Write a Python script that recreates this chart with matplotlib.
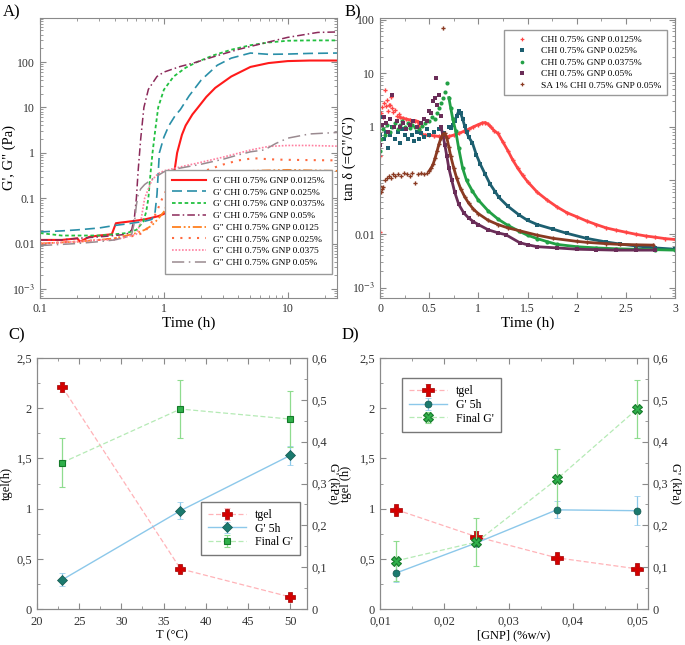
import matplotlib
matplotlib.use("Agg")
import matplotlib.pyplot as plt
from matplotlib.ticker import FixedLocator, FixedFormatter, MultipleLocator, FuncFormatter, LogLocator, NullFormatter

plt.rcParams['font.family'] = ['Liberation Serif', 'DejaVu Serif']
plt.rcParams['mathtext.fontset'] = 'stix'

# ---------------- panel A : G', G'' vs time ----------------
a_labels = ["G' CHI 0.75% GNP 0.0125%", "G' CHI 0.75% GNP 0.025%",
            "G' CHI 0.75% GNP 0.0375%", "G' CHI 0.75% GNP 0.05%",
            "G\" CHI 0.75% GNP 0.0125", "G\" CHI 0.75% GNP 0.025%",
            "G\" CHI 0.75% GNP 0.0375", "G\" CHI 0.75% GNP 0.05%"]

a_t_gp1 = [0.1, 0.15, 0.2, 0.21, 0.25, 0.3, 0.38, 0.41, 0.45, 0.5, 0.6, 0.7, 0.8, 0.9, 1.0, 1.06, 1.1, 1.15, 1.2, 1.28, 1.4, 1.5, 1.7, 1.86, 2.2, 2.6, 3.5, 5, 7, 10, 15, 25]
a_v_gp1 = [0.012, 0.012, 0.013, 0.011, 0.014, 0.015, 0.016, 0.028, 0.029, 0.03, 0.032, 0.034, 0.037, 0.04, 0.045, 0.05, 0.07, 0.14, 0.3, 1.0, 2.5, 4.0, 7.0, 9.5, 17, 27, 48, 78, 95, 105, 108, 108]
a_t_gp2 = [0.1, 0.15, 0.2, 0.3, 0.4, 0.5, 0.6, 0.7, 0.8, 0.85, 0.88, 0.9, 0.92, 1.0, 1.1, 1.23, 1.36, 1.6, 2.0, 2.7, 3.5, 5, 7, 10, 15, 25]
a_v_gp2 = [0.018, 0.019, 0.02, 0.022, 0.025, 0.027, 0.029, 0.031, 0.034, 0.05, 0.12, 0.35, 1.0, 2.2, 4.0, 6.5, 9.0, 18, 40, 85, 122, 158, 148, 150, 155, 158]
a_t_gp3 = [0.1, 0.15, 0.2, 0.3, 0.4, 0.5, 0.6, 0.68, 0.72, 0.75, 0.78, 0.81, 0.85, 0.9, 1.0, 1.2, 1.5, 1.85, 2.5, 3.5, 5, 7, 10, 15, 25]
a_v_gp3 = [0.017, 0.015, 0.015, 0.015, 0.016, 0.017, 0.02, 0.03, 0.05, 0.1, 0.35, 1.0, 3.0, 10, 24.5, 48, 75, 100, 140, 187, 235, 270, 295, 300, 300]
a_t_gp4 = [0.1, 0.15, 0.2, 0.3, 0.4, 0.5, 0.55, 0.58, 0.6, 0.62, 0.65, 0.69, 0.75, 0.88, 1.0, 1.36, 1.8, 2.5, 4, 6.5, 10, 17.5, 25]
a_v_gp4 = [0.012, 0.012, 0.013, 0.014, 0.015, 0.016, 0.02, 0.04, 0.1, 0.4, 2.0, 10, 25, 48, 60, 80, 98, 130, 190, 263, 350, 450, 460]
a_t_gs1 = [0.1, 0.2, 0.3, 0.4, 0.5, 0.6, 0.7, 0.8, 0.9, 1.0, 1.1, 1.2, 1.36, 1.6, 2, 2.5, 3, 5, 10, 15, 25]
a_v_gs1 = [0.01, 0.011, 0.012, 0.013, 0.015, 0.017, 0.02, 0.025, 0.035, 0.05, 0.09, 0.15, 0.21, 0.25, 0.31, 0.37, 0.39, 0.4, 0.42, 0.41, 0.4]
a_t_gs2 = [0.1, 0.2, 0.3, 0.4, 0.5, 0.6, 0.7, 0.8, 0.9, 1.0, 1.1, 1.2, 1.5, 1.86, 3, 4, 5.3, 6, 8, 10, 15, 25]
a_v_gs2 = [0.01, 0.011, 0.012, 0.013, 0.014, 0.015, 0.018, 0.03, 0.06, 0.12, 0.18, 0.24, 0.3, 0.35, 0.55, 0.68, 0.76, 0.74, 0.71, 0.7, 0.69, 0.68]
a_t_gs3 = [0.1, 0.2, 0.3, 0.4, 0.5, 0.6, 0.65, 0.7, 0.8, 0.9, 1.0, 1.2, 1.5, 1.86, 3, 4, 5, 7, 10, 15, 25]
a_v_gs3 = [0.01, 0.011, 0.012, 0.012, 0.014, 0.016, 0.03, 0.1, 0.25, 0.35, 0.4, 0.45, 0.52, 0.59, 0.8, 0.98, 1.15, 1.38, 1.45, 1.45, 1.4]
a_t_gs4 = [0.1, 0.2, 0.3, 0.4, 0.5, 0.55, 0.58, 0.6, 0.62, 0.65, 0.7, 0.8, 1.0, 1.3, 1.6, 2, 3, 4, 5, 6.5, 8, 10, 15, 25]
a_v_gs4 = [0.009, 0.01, 0.011, 0.012, 0.014, 0.016, 0.03, 0.07, 0.12, 0.16, 0.2, 0.26, 0.38, 0.45, 0.5, 0.56, 0.72, 0.9, 1.05, 1.16, 1.6, 2.1, 2.6, 2.8]

# ---------------- panel B : tan delta vs time ----------------
b_labels = ["CHI 0.75% GNP 0.0125%", "CHI 0.75% GNP 0.025%", "CHI 0.75% GNP 0.0375%",
            "CHI 0.75% GNP 0.05%", "SA 1% CHI 0.75% GNP 0.05%"]

b_red_nt = [0.0, 0.0, 0.01, 0.02, 0.03, 0.04, 0.05, 0.06, 0.07, 0.08, 0.09, 0.1, 0.11, 0.12, 0.13, 0.15, 0.17, 0.19]
b_red_nv = [0.011, 0.28, 1.8, 2.3, 1.5, 2.8, 4.8, 2.4, 3.2, 2.0, 2.6, 2.5, 3.6, 2.2, 1.9, 2.1, 1.6, 1.7]
b_red_t = [0.2, 0.23, 0.26, 0.3, 0.33, 0.36, 0.39, 0.41, 0.43, 0.46, 0.5, 0.55, 0.6, 0.65, 0.7, 0.75, 0.8, 0.85, 0.9, 0.95, 1.0, 1.04, 1.07, 1.1, 1.13, 1.16, 1.2, 1.25, 1.3, 1.35, 1.4, 1.45, 1.5, 1.6, 1.7, 1.8, 1.9, 2.0, 2.1, 2.2, 2.3, 2.4, 2.5, 2.6, 2.7, 2.8, 2.9, 3.0]
b_red_v = [1.5, 1.45, 1.4, 1.35, 1.3, 1.3, 1.25, 0.8, 0.72, 0.7, 0.7, 0.68, 0.66, 0.65, 0.66, 0.7, 0.75, 0.82, 0.9, 1.0, 1.1, 1.18, 1.2, 1.12, 0.98, 0.85, 0.75, 0.52, 0.36, 0.24, 0.17, 0.125, 0.095, 0.06, 0.043, 0.032, 0.025, 0.021, 0.0175, 0.015, 0.013, 0.0118, 0.0108, 0.0099, 0.0092, 0.0087, 0.0082, 0.0079]

b_teal_nt = [0.0, 0.02, 0.04, 0.06, 0.08, 0.1, 0.12, 0.15, 0.18, 0.2, 0.22, 0.25, 0.28, 0.3, 0.33, 0.35, 0.38, 0.4, 0.42, 0.45, 0.48, 0.5, 0.55, 0.6, 0.65, 0.7]
b_teal_nv = [0.7, 1.5, 0.6, 0.8, 0.4, 0.7, 1.0, 0.6, 0.8, 0.5, 0.9, 0.7, 0.6, 1.1, 0.7, 0.55, 0.8, 0.6, 0.75, 0.65, 0.9, 0.7, 0.8, 0.9, 0.75, 1.0]
b_teal_t = [0.72, 0.74, 0.76, 0.78, 0.8, 0.82, 0.84, 0.86, 0.88, 0.9, 0.94, 0.98, 1.02, 1.07, 1.12, 1.17, 1.21, 1.3, 1.41, 1.5, 1.6, 1.76, 1.9, 2.1, 2.3, 2.44, 2.6, 2.8, 3.0]
b_teal_v = [0.95, 1.1, 1.3, 1.6, 1.95, 1.8, 1.4, 1.05, 0.8, 0.65, 0.5, 0.3, 0.2, 0.13, 0.085, 0.062, 0.048, 0.033, 0.023, 0.018, 0.015, 0.0123, 0.0103, 0.0083, 0.0071, 0.0065, 0.006, 0.0055, 0.0052]

b_green_nt = [0.0, 0.01, 0.03, 0.05, 0.07, 0.1, 0.12, 0.15, 0.18, 0.2, 0.22, 0.25, 0.28, 0.3, 0.33, 0.36, 0.4, 0.43, 0.46, 0.5, 0.53, 0.56, 0.58, 0.6, 0.62, 0.64, 0.66, 0.68]
b_green_nv = [0.35, 0.6, 0.9, 0.7, 1.1, 0.8, 1.0, 1.2, 0.9, 1.1, 1.3, 1.0, 1.2, 0.95, 1.1, 1.0, 0.9, 1.05, 1.2, 1.3, 1.5, 1.4, 1.8, 2.2, 2.8, 3.5, 4.5, 6.5]
b_green_t = [0.7, 0.72, 0.74, 0.77, 0.8, 0.84, 0.88, 0.94, 1.0, 1.1, 1.2, 1.3, 1.41, 1.5, 1.6, 1.7, 1.8, 2.0, 2.2, 2.4, 2.6, 2.8, 3.0]
b_green_v = [3.5, 2.2, 1.4, 0.83, 0.4, 0.17, 0.1, 0.063, 0.043, 0.027, 0.019, 0.0145, 0.0114, 0.0095, 0.0082, 0.0072, 0.0064, 0.0058, 0.0055, 0.0053, 0.0052, 0.0051, 0.005]

b_purple_nt = [0.0, 0.02, 0.04, 0.06, 0.08, 0.1, 0.12, 0.14, 0.17, 0.2, 0.23, 0.26, 0.3, 0.34, 0.38, 0.42, 0.45, 0.48, 0.5, 0.52, 0.54, 0.56, 0.57, 0.58, 0.6, 0.62]
b_purple_nv = [0.45, 1.1, 1.5, 1.2, 0.8, 1.4, 4.0, 1.0, 1.3, 1.0, 1.2, 0.9, 1.1, 1.3, 1.0, 1.2, 1.4, 1.3, 2.0, 1.8, 3.0, 3.5, 8.0, 2.5, 4.0, 1.6]
b_purple_t = [0.62, 0.64, 0.66, 0.68, 0.7, 0.73, 0.76, 0.8, 0.85, 0.9, 0.95, 1.0, 1.1, 1.2, 1.28, 1.42, 1.5, 1.6, 1.8, 2.0, 2.2, 2.4, 2.6, 2.8]
b_purple_v = [1.0, 0.7, 0.45, 0.28, 0.17, 0.1, 0.06, 0.036, 0.025, 0.02, 0.017, 0.015, 0.012, 0.0105, 0.0097, 0.0069, 0.0063, 0.0058, 0.0055, 0.0052, 0.0051, 0.005, 0.005, 0.005]

b_brown_nt = [0.0, 0.01, 0.02, 0.03, 0.05, 0.07, 0.09, 0.11, 0.13, 0.15, 0.18, 0.21, 0.24, 0.27, 0.3, 0.33, 0.36, 0.39, 0.42, 0.45, 0.48, 0.64]
b_brown_nv = [0.08, 0.06, 0.07, 0.075, 0.1, 0.11, 0.12, 0.11, 0.13, 0.12, 0.13, 0.12, 0.14, 0.13, 0.12, 0.14, 0.09, 0.13, 0.14, 0.13, 0.14, 70.0]
b_brown_t = [0.5, 0.52, 0.54, 0.56, 0.58, 0.6, 0.62, 0.64, 0.66, 0.68, 0.7, 0.72, 0.75, 0.78, 0.82, 0.86, 0.9, 0.95, 1.0, 1.1, 1.2, 1.3, 1.42, 1.6, 1.76, 2.0, 2.1, 2.3, 2.44, 2.6, 2.78]
b_brown_v = [0.15, 0.17, 0.2, 0.26, 0.35, 0.48, 0.62, 0.72, 0.75, 0.62, 0.42, 0.28, 0.17, 0.11, 0.07, 0.05, 0.038, 0.029, 0.024, 0.018, 0.015, 0.013, 0.0115, 0.0095, 0.0083, 0.0073, 0.007, 0.0066, 0.0064, 0.0063, 0.0062]

# ---------------- panel C : vs temperature ----------------
c_temp = [23, 37, 50]
c_tgel = [2.21, 0.40, 0.12]
c_tgel_err = [0.05, 0.03, 0.02]
c_g5h = [0.070, 0.235, 0.367]
c_g5h_err = [0.015, 0.02, 0.022]
c_gfin = [0.350, 0.478, 0.454]
c_gfin_err = [0.058, 0.07, 0.066]

# ---------------- panel D : vs GNP ----------------
d_gnp = [0.0125, 0.025, 0.0375, 0.05]
d_tgel = [0.99, 0.72, 0.51, 0.40]
d_tgel_err = [0.03, 0.06, 0.03, 0.03]
d_g5h = [0.086, 0.158, 0.237, 0.235]
d_g5h_err = [0.022, 0.01, 0.02, 0.034]
d_gfin = [0.115, 0.160, 0.310, 0.478]
d_gfin_err = [0.048, 0.058, 0.072, 0.07]

W, H = 685, 645
fig = plt.figure(figsize=(W / 100, H / 100), dpi=100)


def px_axes(x0, y0, x1, y1):
    return fig.add_axes([x0 / W, 1 - y1 / H, (x1 - x0) / W, (y1 - y0) / H])


def style_frame(ax, size=8.5):
    for s in ax.spines.values():
        s.set_color('#8a8a8a')
        s.set_linewidth(0.8)
    ax.tick_params(which='both', direction='in', top=True, right=True,
                   colors='#8a8a8a', labelcolor='#333333', labelsize=size)
    ax.tick_params(which='major', length=4)
    ax.tick_params(which='minor', length=2)


comma = FuncFormatter(lambda v, p: ('%g' % round(v, 4)).replace('.', ','))

# ---- A ----
axA = px_axes(40, 18, 337, 298)
a_series = [(a_t_gp1, a_v_gp1, '#ff1a1a', '-', 1.5),
            (a_t_gp2, a_v_gp2, '#2a8fa8', (0, (6, 3)), 1.2),
            (a_t_gp3, a_v_gp3, '#22c040', (0, (2, 1.5)), 1.3),
            (a_t_gp4, a_v_gp4, '#8b2a5a', (0, (5, 2, 1, 2)), 1.1),
            (a_t_gs1, a_v_gs1, '#ff8020', (0, (5, 1.5, 1, 1.5, 1, 1.5)), 1.3),
            (a_t_gs2, a_v_gs2, '#ff6a40', (0, (1, 3)), 1.5),
            (a_t_gs3, a_v_gs3, '#ff7fa0', (0, (1, 1)), 1.2),
            (a_t_gs4, a_v_gs4, '#9a8a90', (0, (8, 3, 1, 3)), 1.1)]
for (t, v, c, ls, lw), lab in zip(a_series, a_labels):
    axA.plot(t, v, color=c, ls=ls, lw=lw, label=lab)
axA.set_xscale('log')
axA.set_yscale('log')
axA.set_xlim(0.1, 25)
axA.set_ylim(6.3e-4, 935)
axA.yaxis.set_major_locator(FixedLocator([1e-3, 1e-2, 1e-1, 1, 10, 100]))
axA.yaxis.set_major_formatter(FixedFormatter(['10$^{-3}$', '0.01', '0.1', '1', '10', '100']))
axA.xaxis.set_major_locator(FixedLocator([0.1, 1, 10]))
axA.xaxis.set_major_formatter(FixedFormatter(['0.1', '1', '10']))
axA.xaxis.set_minor_locator(LogLocator(subs=range(2, 10)))
axA.yaxis.set_minor_locator(LogLocator(subs=range(2, 10)))
axA.xaxis.set_minor_formatter(NullFormatter())
axA.yaxis.set_minor_formatter(NullFormatter())
style_frame(axA)
axA.set_xlabel('Time (h)', fontsize=11, labelpad=1)
axA.set_ylabel("G', G\" (Pa)", fontsize=10.5)
axA.yaxis.set_label_coords(-0.082, 0.5)
axA.legend(loc='lower right', bbox_to_anchor=(0.998, 0.07), fontsize=6.8, handlelength=3.6,
           labelspacing=0.33, borderpad=0.7, fancybox=False, edgecolor='#999999', framealpha=1)
fig.text(3 / W, 1 - 12 / H, 'A)', fontsize=12, va='center')

# ---- B ----
axB = px_axes(380, 18, 675, 298)
b_series = [(b_red_nt, b_red_nv, b_red_t, b_red_v, '#ff4545', 'P'),
            (b_teal_nt, b_teal_nv, b_teal_t, b_teal_v, '#1d5f70', 's'),
            (b_green_nt, b_green_nv, b_green_t, b_green_v, '#22a045', 'o'),
            (b_purple_nt, b_purple_nv, b_purple_t, b_purple_v, '#6a2d58', 's'),
            (b_brown_nt, b_brown_nv, b_brown_t, b_brown_v, '#8a3a22', 'P')]
for (nt, nv, t, v, c, m), lab in zip(b_series, b_labels):
    axB.plot(nt, nv, ls='none', marker=m, ms=3, color=c, mew=0, label=lab)
    axB.plot(t, v, ls='-', lw=2.0, marker=m, ms=3, color=c, mew=0)
axB.set_yscale('log')
axB.set_xlim(0, 3)
axB.set_ylim(6.4e-4, 107)
axB.yaxis.set_major_locator(FixedLocator([1e-3, 1e-2, 1e-1, 1, 10, 100]))
axB.yaxis.set_major_formatter(FixedFormatter(['10$^{-3}$', '0.01', '', '1', '10', '100']))
axB.yaxis.set_minor_locator(LogLocator(subs=range(2, 10)))
axB.yaxis.set_minor_formatter(NullFormatter())
axB.xaxis.set_major_locator(MultipleLocator(0.5))
axB.xaxis.set_minor_locator(MultipleLocator(0.25))
axB.xaxis.set_major_formatter(FuncFormatter(lambda v, p: '%g' % v))
style_frame(axB)
axB.set_xlabel('Time (h)', fontsize=11, labelpad=1)
axB.set_ylabel("tan \u03b4 (=G\"/G')", fontsize=10.5)
axB.yaxis.set_label_coords(-0.082, 0.5)
axB.legend(loc='upper right', bbox_to_anchor=(0.99, 0.975), fontsize=6.8, handlelength=2.5,
           labelspacing=0.3, borderpad=0.6, fancybox=False, edgecolor='#999999', framealpha=1,
           markerscale=0.9)
fig.text(345 / W, 1 - 12 / H, 'B)', fontsize=12, va='center')


def twin_panel(x0, x1, xs, tg, tge, g5, g5e, gf, gfe, fin_marker, fin_ms, g5_marker, tg_ms):
    ax = px_axes(x0, 358, x1, 609)
    ax2 = ax.twinx()
    h1 = ax.errorbar(xs, tg, yerr=tge, color='#ffb3b8', ls=(0, (4, 2)), lw=0.9,
                     marker='P', ms=tg_ms, mfc='#d40000', mec='#a00000', mew=0.5,
                     ecolor='#ff9aa0', elinewidth=0.9, capsize=2.5, label='tgel')
    h2 = ax2.errorbar(xs, g5, yerr=g5e, color='#8cc8ea', ls='-', lw=1.0,
                      marker=g5_marker, ms=5, mfc='#1b7a6e', mec='#14564e', mew=0.5,
                      ecolor='#8cc8ea', elinewidth=0.9, capsize=2.5, label="G' 5h")
    h3 = ax2.errorbar(xs, gf, yerr=gfe, color='#b5eab5', ls=(0, (4, 2)), lw=0.9,
                      marker=fin_marker, ms=fin_ms, mfc='#2fb04a', mec='#157a2a', mew=0.8,
                      ecolor='#8fdc8f', elinewidth=0.9, capsize=2.5, label="Final G'")
    ax.set_ylim(0, 2.5)
    ax2.set_ylim(0, 0.6)
    ax.yaxis.set_major_locator(MultipleLocator(0.5))
    ax.yaxis.set_minor_locator(MultipleLocator(0.25))
    ax2.yaxis.set_major_locator(MultipleLocator(0.1))
    ax2.yaxis.set_minor_locator(MultipleLocator(0.05))
    ax.yaxis.set_major_formatter(comma)
    ax2.yaxis.set_major_formatter(comma)
    for a in (ax, ax2):
        for s in a.spines.values():
            s.set_color('#8a8a8a')
            s.set_linewidth(0.8)
        a.tick_params(which='both', direction='in', colors='#8a8a8a',
                      labelcolor='#333333', labelsize=9)
        a.tick_params(which='major', length=4)
        a.tick_params(which='minor', length=2)
    ax.tick_params(which='both', top=True, right=False)
    ax.tick_params(axis='x', pad=5)
    ax2.tick_params(which='both', left=False, right=True)
    ax2.set_ylabel("G' (kPa)", fontsize=9, rotation=270, va='center')
    return ax, ax2, [h1, h2, h3]


# ---- C ----
axC, axC2, hc = twin_panel(37, 307, c_temp, c_tgel, c_tgel_err, c_g5h, c_g5h_err,
                           c_gfin, c_gfin_err, 's', 4.5, 'D', 7)
axC.set_xlim(20, 52)
axC.xaxis.set_major_locator(MultipleLocator(5))
axC.xaxis.set_minor_locator(MultipleLocator(2.5))
axC.set_xlabel('T (\u00b0C)', fontsize=9, labelpad=1)
axC.set_ylabel('tgel(h)', fontsize=9)
axC.yaxis.set_label_coords(-0.089, 0.5)
axC2.yaxis.set_label_coords(1.1, 0.5)
axC2.legend(hc, ['tgel', "G' 5h", "Final G'"], loc='lower left', bbox_to_anchor=(0.585, 0.19),
            fontsize=8.5, handlelength=3.2, labelspacing=0.15, borderpad=0.6,
            fancybox=False, edgecolor='#777777', framealpha=1)
fig.text(8 / W, 1 - 335 / H, 'C)', fontsize=12, va='center')

# ---- D ----
axD, axD2, hd = twin_panel(380, 648, d_gnp, d_tgel, d_tgel_err, d_g5h, d_g5h_err,
                           d_gfin, d_gfin_err, 'X', 7, 'o', 9)
axD.set_xlim(0.01, 0.0517)
axD.xaxis.set_major_locator(MultipleLocator(0.01))
axD.xaxis.set_minor_locator(MultipleLocator(0.005))
axD.xaxis.set_major_formatter(comma)
axD.set_xlabel('[GNP] (%w/v)', fontsize=9, labelpad=1)
axD.set_ylabel('tgel (h)', fontsize=9)
axD.yaxis.set_label_coords(-0.104, 0.5)
axD2.yaxis.set_label_coords(1.104, 0.5)
axD2.legend(hd, ['tgel', "G' 5h", "Final G'"], loc='upper left', bbox_to_anchor=(0.06, 0.944),
            fontsize=8.5, handlelength=3.2, labelspacing=0.15, borderpad=0.6,
            fancybox=False, edgecolor='#777777', framealpha=1)
fig.text(342 / W, 1 - 335 / H, 'D)', fontsize=12, va='center')

fig.savefig('out.png', dpi=100)
